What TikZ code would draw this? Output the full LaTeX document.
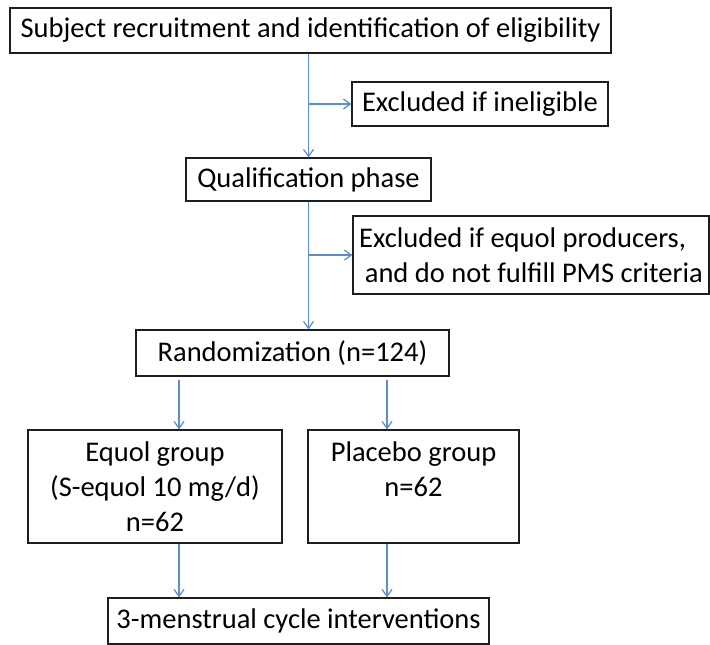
\documentclass[tikz,border=0pt]{standalone}
\usepackage{fontspec}
\setmainfont{Carlito}
\usetikzlibrary{arrows.meta}
\definecolor{arrowblue}{RGB}{90,142,206}
\definecolor{boxline}{RGB}{30,30,30}
\begin{document}
\begin{tikzpicture}[x=1pt,y=-1pt,
  box/.style={draw=boxline, line width=1.3pt, inner sep=0pt, fill=white,
    font=\fontsize{28.5}{35}\selectfont},
  conn/.style={draw=arrowblue, line width=1.3pt,
    -{Straight Barb[length=7pt,width=10pt,line width=1.2pt]}}]
\useasboundingbox[fill=white] (0,0) rectangle (710,645);
\node[box, minimum width=601pt, minimum height=45pt] (recruit) at (310.5,30.5)
  {Subject recruitment and identification of eligibility};
\node[box, minimum width=256pt, minimum height=44pt] (excl1) at (480,104)
  {Excluded if ineligible};
\node[box, minimum width=245pt, minimum height=43pt] (qual) at (308.5,179.5)
  {Qualification phase};
\node[box, minimum width=356pt, minimum height=78pt, align=left] (excl2) at (531,255)
  {Excluded if equol producers,\\\hspace{0.2em}and do not fulfill PMS criteria};
\node[box, minimum width=313pt, minimum height=46pt] (rand) at (292.5,353)
  {Randomization (n=124)};
\node[box, minimum width=254pt, minimum height=113pt, align=center] (equol) at (155,486.5)
  {Equol group\\(S-equol 10 mg/d)\\n=62};
\node[box, minimum width=211pt, minimum height=113pt, align=center] (placebo) at (413.5,486.5)
  {Placebo group\\n=62\\\phantom{n=62}};
\node[box, minimum width=381pt, minimum height=46pt] (final) at (298.5,621)
  {3-menstrual cycle interventions};

\coordinate (colA) at (179,0);
\coordinate (colB) at (387,0);
\coordinate (j1) at (qual.north |- excl1.west);
\coordinate (j2) at (qual.south |- excl2.west);

\draw[conn] (recruit.south -| qual.north) -- (qual.north);
\draw[conn] (j1) -- (excl1.west);
\draw[conn] (qual.south) -- (qual.south |- rand.north);
\draw[conn] (j2) -- (excl2.west);
\draw[conn] ([yshift=-3pt]rand.south -| colA) -- (equol.north -| colA);
\draw[conn] ([yshift=-3pt]rand.south -| colB) -- (placebo.north -| colB);
\draw[conn] (equol.south -| colA) -- (final.north -| colA);
\draw[conn] (placebo.south -| colB) -- (final.north -| colB);
\end{tikzpicture}
\end{document}
